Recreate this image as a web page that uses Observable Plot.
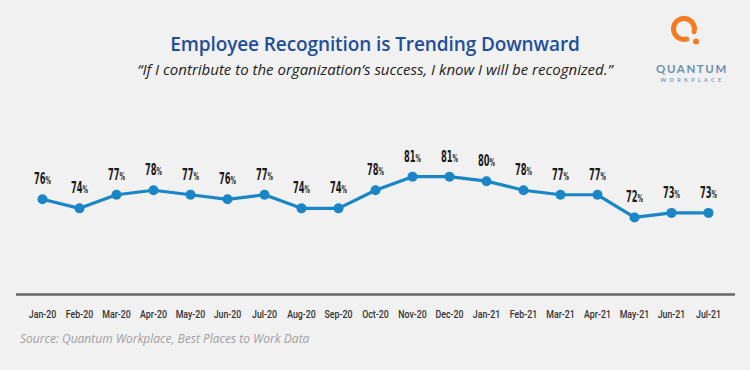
<!DOCTYPE html>
<html>
<head>
<meta charset="utf-8">
<script src="https://cdn.jsdelivr.net/npm/d3@7"></script>
<script src="https://cdn.jsdelivr.net/npm/@observablehq/plot@0.6"></script>
<style>
  html, body { margin: 0; padding: 0; }
  body { width: 750px; height: 370px; background: #f1f1f1; position: relative; overflow: hidden; font-family: "Open Sans", sans-serif; }
  #title { position: absolute; top: 31px; left: 0; width: 750px; text-align: center; font-size: 19px; font-weight: 600; color: #1f4f9c; letter-spacing: -0.1px; }
  #subtitle { position: absolute; top: 59px; left: 0; width: 750px; text-align: center; font-size: 15px; font-style: italic; color: #222; }
  #logo { position: absolute; left: 652px; top: 10px; }
  #chart { position: absolute; left: 0; top: 90px; }
  #source { position: absolute; left: 20px; top: 330px; font-size: 12px; font-style: italic; color: #a0a0a0; }
</style>
</head>
<body>
<div id="title">Employee Recognition is Trending Downward</div>
<div id="subtitle">“If I contribute to the organization’s success, I know I will be recognized.”</div>
<div id="logo">
  <svg width="85" height="76" viewBox="0 0 85 76">
    <path d="M 34.7 29.1 A 10.5 10.5 0 1 1 42.1 21.7" fill="none" stroke="#f47b20" stroke-width="5" stroke-linecap="round"/>
    <circle cx="44" cy="31.5" r="3" fill="#f47b20"/>
    <text x="40" y="63" text-anchor="middle" font-family="Lato, sans-serif" font-size="11.5" font-weight="700" letter-spacing="1.6" fill="#6f8fb3">QUANTUM</text>
    <text x="40.5" y="72" text-anchor="middle" font-family="Lato, sans-serif" font-size="5.5" font-weight="700" letter-spacing="3.3" fill="#7f9cbd">WORKPLACE</text>
  </svg>
</div>
<div id="chart"></div>
<div id="source">Source: Quantum Workplace, Best Places to Work Data</div>
<script>
const months = ["Jan-20","Feb-20","Mar-20","Apr-20","May-20","Jun-20","Jul-20","Aug-20","Sep-20","Oct-20","Nov-20","Dec-20","Jan-21","Feb-21","Mar-21","Apr-21","May-21","Jun-21","Jul-21"];
const values = [76,74,77,78,77,76,77,74,74,78,81,81,80,78,77,77,72,73,73];

const data = months.map((m, i) => ({month: m, value: values[i]}));
const labelFont = "'DejaVu Sans Condensed', 'DejaVu Sans', sans-serif";

const plot = Plot.plot({
  width: 750,
  height: 230,
  marginLeft: 39,
  marginRight: 39,
  marginTop: 68,
  marginBottom: 26,
  style: {background: "transparent", overflow: "visible"},
  x: {type: "point", domain: months, padding: 0, axis: null},
  y: {domain: [55, 85], axis: null},
  marks: [
    Plot.ruleY([55], {stroke: "#666", strokeWidth: 2.5, insetLeft: -23, insetRight: -24}),
    Plot.axisX({domain: months, tickSize: 0, tickPadding: 0, dy: 16, fontSize: 11, fontWeight: 500, fill: "#333", fontFamily: "Roboto, sans-serif", label: null, className: "xticks"}),
    Plot.line(data, {x: "month", y: "value", stroke: "#1a86c8", strokeWidth: 3.2}),
    Plot.dot(data, {x: "month", y: "value", r: 5, fill: "#1a86c8"}),
    Plot.text(data, {x: "month", y: "value", text: d => String(d.value), textAnchor: "end", dx: 3, dy: -15, lineAnchor: "bottom", fontSize: 16, fontWeight: 700, fill: "#1a1a1a", fontFamily: labelFont, className: "numlab"}),
    Plot.text(data, {x: "month", y: "value", text: d => "%", textAnchor: "start", dx: 3, dy: -15, lineAnchor: "bottom", fontSize: 10, fontWeight: 700, fill: "#1a1a1a", fontFamily: labelFont, className: "pctlab"})
  ]
});
// condense glyphs horizontally (reference uses a narrow display font)
function squeeze(sel, s) {
  plot.querySelectorAll(sel).forEach(t => {
    const tr = t.getAttribute("transform") || "";
    t.setAttribute("transform", tr + ` scale(${s},1)`);
  });
}
squeeze(".numlab text", 0.58);
squeeze(".pctlab text", 0.6);
squeeze(".xticks text", 0.8);
document.getElementById("chart").appendChild(plot);
</script>
</body>
</html>
